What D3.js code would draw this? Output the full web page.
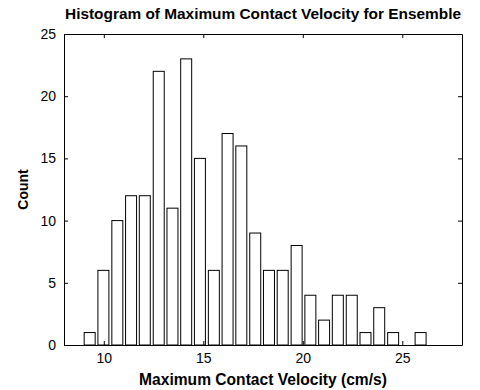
<!DOCTYPE html>
<html>
<head>
<meta charset="utf-8">
<script src="https://cdn.jsdelivr.net/npm/d3@7"></script>
<style>
  body { margin: 0; background: #fff; }
  svg { display: block; font-family: "Liberation Sans", Arial, sans-serif; }
</style>
</head>
<body>
<svg width="480" height="390"></svg>
<script>
// bin centres (cm/s) and counts
let binCenters = [9.29, 9.98, 10.68, 11.37, 12.06, 12.76, 13.45, 14.14, 14.83, 15.53,
                  16.22, 16.91, 17.61, 18.30, 18.99, 19.69, 20.38, 21.07, 21.76, 22.46,
                  23.15, 23.84, 24.54, 25.23, 25.92];
let counts = [1, 6, 10, 12, 12, 22, 11, 23, 15, 6,
              17, 16, 9, 6, 6, 8, 4, 2, 4, 4,
              1, 3, 1, 0, 1];
let xTicks = [10, 15, 20, 25];
let yTicks = [0, 5, 10, 15, 20, 25];

let svg = d3.select("svg");
let margin = {top: 34, right: 18, bottom: 45, left: 64};
let width = 480 - margin.left - margin.right,
    height = 390 - margin.top - margin.bottom;

let x = d3.scaleLinear().domain([8, 28]).range([0, width]);
let y = d3.scaleLinear().domain([0, 25]).range([height, 0]);

let binW = binCenters[1] - binCenters[0];
let barW = x(binCenters[0] + binW * 0.4) - x(binCenters[0] - binW * 0.4);

let g = svg.append("g").attr("transform", `translate(${margin.left},${margin.top})`);

// bars
g.append("g").selectAll("rect")
    .data(counts)
    .enter().append("rect")
    .attr("x", (d, i) => x(binCenters[i]) - barW / 2)
    .attr("y", d => y(d))
    .attr("width", barW)
    .attr("height", d => y(0) - y(d))
    .attr("fill", "white")
    .attr("stroke", "black")
    .attr("stroke-width", 1);

// axes, matlab style: ticks inside, box all round
let tk = 4;
let axBottom = g.append("g").attr("transform", `translate(0,${height})`)
    .call(d3.axisBottom(x).tickValues(xTicks).tickSizeInner(-tk).tickSizeOuter(0).tickPadding(6));
let axTop = g.append("g")
    .call(d3.axisTop(x).tickValues(xTicks).tickSizeInner(-tk).tickSizeOuter(0).tickFormat(""));
let axLeft = g.append("g")
    .call(d3.axisLeft(y).tickValues(yTicks).tickSizeInner(-tk).tickSizeOuter(0).tickPadding(8));
let axRight = g.append("g").attr("transform", `translate(${width},0)`)
    .call(d3.axisRight(y).tickValues(yTicks).tickSizeInner(-tk).tickSizeOuter(0).tickFormat(""));

[axBottom, axTop, axLeft, axRight].forEach(a => {
    a.selectAll("path").attr("stroke", "black");
    a.selectAll("line").attr("stroke", "black");
    a.selectAll("text").attr("fill", "black").style("font-size", "14px")
        .style("font-family", "'Liberation Sans', Arial, sans-serif");
});
axBottom.selectAll("text").attr("y", 7).attr("dy", "0.75em");

// labels
svg.append("text")
    .attr("x", margin.left + width / 2).attr("y", 19)
    .attr("text-anchor", "middle")
    .style("font-size", "15.4px").style("font-weight", "bold")
    .text("Histogram of Maximum Contact Velocity for Ensemble");

svg.append("text")
    .attr("x", margin.left + width / 2).attr("y", 385)
    .attr("text-anchor", "middle")
    .style("font-size", "15.6px").style("font-weight", "bold")
    .text("Maximum Contact Velocity (cm/s)");

svg.append("text")
    .attr("transform", `translate(28,${margin.top + height / 2}) rotate(-90)`)
    .attr("text-anchor", "middle")
    .style("font-size", "14px").style("font-weight", "bold")
    .text("Count");
</script>
</body>
</html>
